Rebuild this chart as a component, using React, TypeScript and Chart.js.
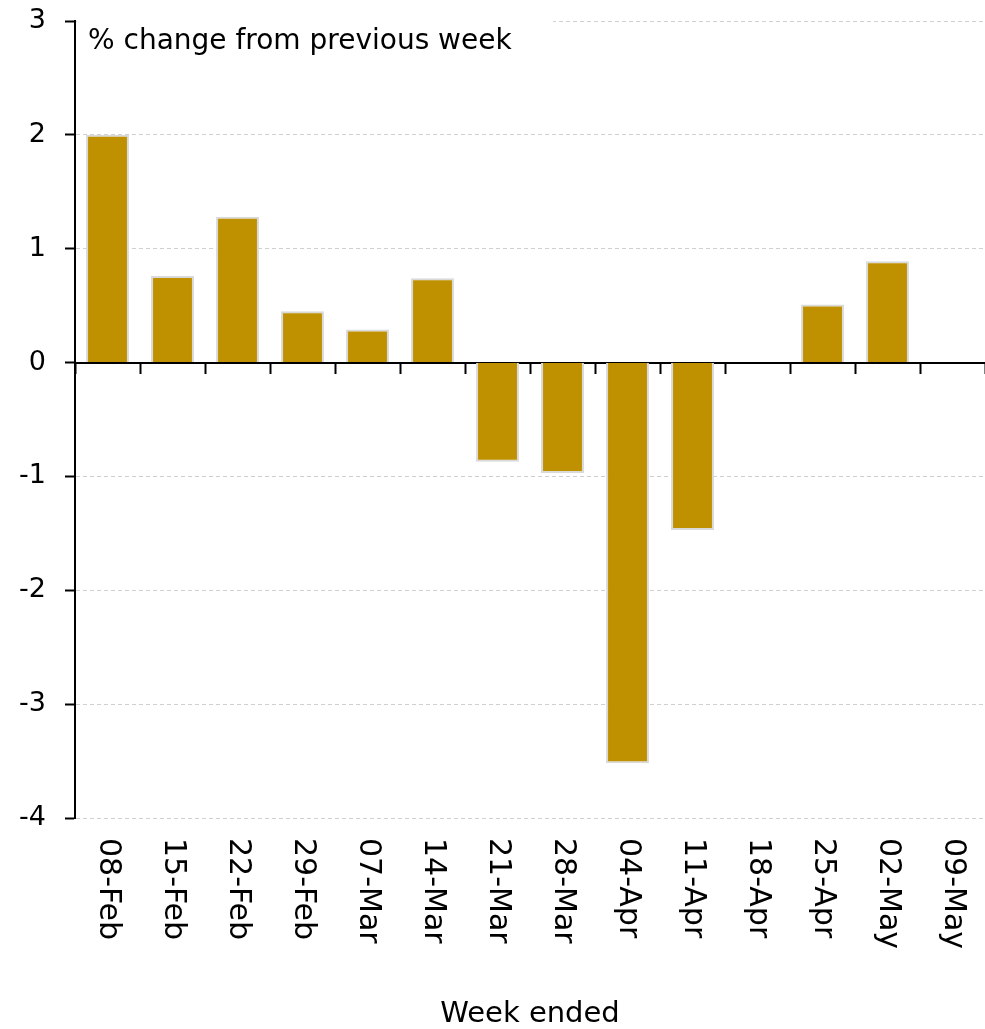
import React, { useEffect, useRef } from "react";
import { Chart, registerables } from "chart.js";

Chart.register(...registerables);

const categories = ["08-Feb", "15-Feb", "22-Feb", "29-Feb", "07-Mar", "14-Mar", "21-Mar", "28-Mar", "04-Apr", "11-Apr", "18-Apr", "25-Apr", "02-May", "09-May"];
const weeklyChange: (number | null)[] = [2.0, 0.76, 1.28, 0.45, 0.29, 0.74, -0.87, -0.97, -3.52, -1.47, 0, 0.51, 0.89, null];
const yTicks = [3, 2, 1, 0, -1, -2, -3, -4];
const titleText = "% change from previous week";
const xAxisTitle = "Week ended";

const FONT = "'DejaVu Sans', sans-serif";

const overlayPlugin = {
  id: "overlay",
  afterDraw(chart: any) {
    const ctx = chart.ctx;
    const xs = chart.scales.x;
    const area = chart.chartArea;
    ctx.save();
    // title box
    ctx.fillStyle = "#ffffff";
    ctx.fillRect(area.left + 2, area.top - 8, 476, 50);
    ctx.fillStyle = "#000000";
    ctx.font = `28px ${FONT}`;
    ctx.textAlign = "left";
    ctx.textBaseline = "middle";
    ctx.fillText(titleText, area.left + 13, 42);
    // rotated category labels
    ctx.font = `30px ${FONT}`;
    categories.forEach((c, i) => {
      const x = xs.getPixelForValue(i);
      ctx.save();
      ctx.translate(x, area.bottom + 20);
      ctx.rotate(Math.PI / 2);
      ctx.textAlign = "left";
      ctx.textBaseline = "middle";
      ctx.fillText(c, 0, 0);
      ctx.restore();
    });
    // x axis title
    ctx.font = `29px ${FONT}`;
    ctx.textAlign = "center";
    ctx.textBaseline = "middle";
    ctx.fillText(xAxisTitle, (area.left + area.right) / 2, 1014);
    ctx.restore();
  },
};

export default function App() {
  const ref = useRef<HTMLCanvasElement>(null);
  useEffect(() => {
    document.body.style.margin = "0";
    const chart = new Chart(ref.current!, {
      type: "bar",
      data: {
        labels: categories,
        datasets: [
          {
            data: weeklyChange,
            backgroundColor: "#BF9000",
            borderColor: "#D9D9D9",
            borderWidth: 2,
            barPercentage: 0.66,
            categoryPercentage: 1,
          },
        ],
      },
      options: {
        responsive: false,
        animation: false,
        layout: { padding: { top: 21, bottom: 211, left: 0, right: 0 } },
        plugins: { legend: { display: false }, tooltip: { enabled: false }, title: { display: false } },
        scales: {
          x: {
            position: { y: 0 } as any,
            grid: { display: true, drawOnChartArea: false, drawTicks: true, tickLength: 10, tickColor: "#000000", tickWidth: 2, offset: true },
            border: { display: true, color: "#000000", width: 2 },
            ticks: { display: false },
            afterFit(scale: any) {
              scale.height = 0;
              scale.paddingTop = 0;
              scale.paddingBottom = 0;
              scale.paddingLeft = 0;
              scale.paddingRight = 0;
            },
          },
          y: {
            min: -4,
            max: 3,
            afterBuildTicks(scale: any) {
              scale.ticks = yTicks.map((v) => ({ value: v }));
            },
            grid: {
              color: (c: any) => (c.tick && c.tick.value === 0 ? "rgba(0,0,0,0)" : "#D0D0D0"),
              lineWidth: 1,
              drawTicks: true,
              tickLength: 10,
              tickColor: "#000000",
              tickWidth: 2,
              tickBorderDash: [],
            },
            border: { display: true, color: "#000000", width: 2, dash: [4, 3] },
            ticks: {
              color: "#000000",
              font: { family: FONT, size: 27 },
              padding: 19,
              callback: (v: any) => String(v),
            },
            afterFit(scale: any) {
              scale.width = 75;
              scale.paddingTop = 0;
              scale.paddingBottom = 0;
            },
          },
        },
      },
      plugins: [overlayPlugin],
    });
    return () => chart.destroy();
  }, []);
  return (
    <div style={{ position: "absolute", left: 0, top: 0, width: 985, height: 1029 }}>
      <canvas ref={ref} width={985} height={1029} />
    </div>
  );
}
